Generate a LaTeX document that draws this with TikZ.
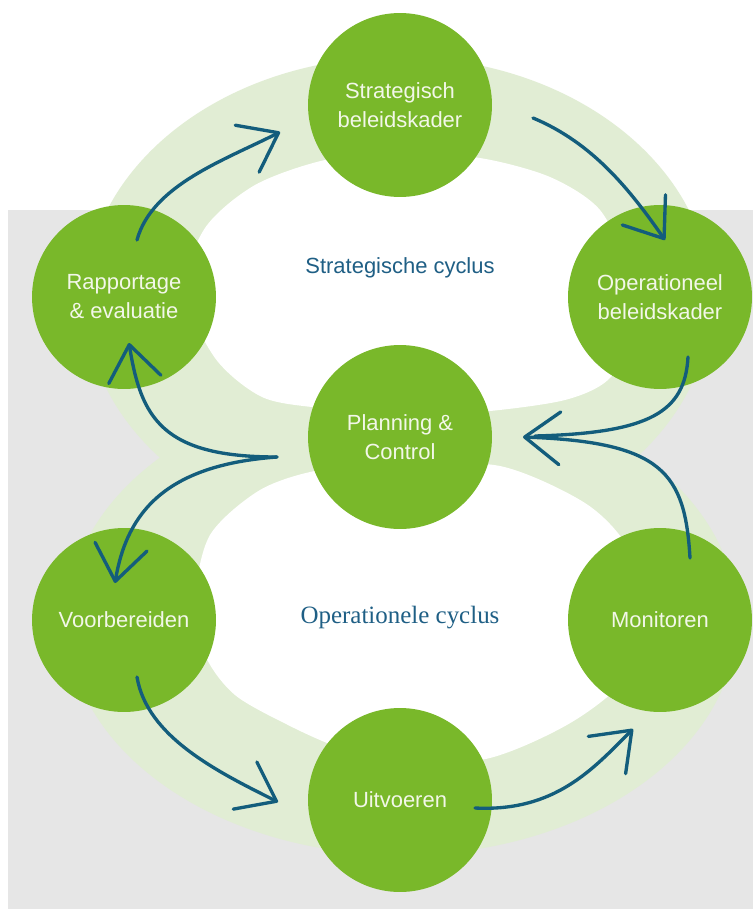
\documentclass[tikz,border=0pt]{standalone}
\usepackage{fontspec}
\setmainfont{Liberation Sans}
\newfontfamily\cyclusserif{Liberation Serif}
\usetikzlibrary{arrows.meta,calc}

\definecolor{bggray}{HTML}{E6E6E6}
\definecolor{ringgreen}{HTML}{E1EDD4}
\definecolor{phasegreen}{HTML}{79B82A}
\definecolor{phasetext}{HTML}{F2F7E8}
\definecolor{flowblue}{HTML}{135D7C}
\definecolor{cyclusblue}{HTML}{1F5F85}

\tikzset{
  phase/.style={circle, fill=phasegreen, minimum size=3.68cm, inner sep=0pt,
    align=center, text=phasetext, font=\fontsize{12.5}{16.5}\selectfont},
  cyclus/.style={text=cyclusblue, font=\fontsize{12.5}{15}\selectfont},
  flow/.style={draw=flowblue, line width=1.9pt, line cap=round,
    -{Straight Barb[length=20pt, width=30pt, round]}},
}

\begin{document}
\begin{tikzpicture}[x=0.02cm, y=-0.02cm]
          % Background
          \fill[white] (0,0) rectangle (753,909);
          \fill[bggray] (8,210) rectangle (753,909);
          \useasboundingbox (0,0) rectangle (753,909);

          % Two rings of the cycle
          \fill[ringgreen] (398,300) ellipse [x radius=313, y radius=243];
          \fill[ringgreen] (402,620) ellipse [x radius=335, y radius=235];
          \fill[white] plot[smooth cycle] coordinates {(400,153) (480,158) (550,177) (600,210)
            (628,270) (632,330) (610,378) (565,400) (480,412) (400,415) (320,408) (262,397)
            (215,358) (185,290) (205,228) (255,185) (325,160)};
          \fill[white] plot[smooth cycle] coordinates {(400,465) (500,466) (585,503) (628,548)
            (642,610) (628,675) (572,722) (490,758) (400,765) (340,748) (290,726) (235,695)
            (205,655) (195,600) (210,535) (260,490) (320,470)};

          % Cycle names
          \node[cyclus] (strcyc) at (400,268) {Strategische cyclus};
          \node[cyclus, font=\cyclusserif\fontsize{14.2}{17}\selectfont] (opcyc) at (400,618) {Operationele cyclus};

          % Phases
          \node[phase] (str) at (400,105) {Strategisch\\beleidskader};
          \node[phase] (rap) at (124,297) {Rapportage\\\& evaluatie};
          \node[phase] (ope) at (660,297) {Operationeel\\beleidskader};
          \node[phase] (pla) at (400,437) {Planning \&\\Control};
          \node[phase] (voo) at (124,620) {Voorbereiden};
          \node[phase] (mon) at (660,620) {Monitoren};
          \node[phase] (uit) at (400,800) {Uitvoeren};

          % Strategic loop
          \draw[flow] ($(rap)+(13,-57)$) .. controls +(15,-55) and +(-55,28) .. ($(str)+(-120,27)$);
          \draw[flow] ($(str)+(133,13)$) .. controls +(60,25) and +(-35,-50) .. ($(ope)+(5,-57)$);
          \draw[flow, -] ($(ope)+(28,60)$) .. controls +(-3,55) and +(115,-3) .. ($(pla)+(135,-1)$);

          % Planning & Control splits to both loops
          \draw[flow] ($(pla)+(-123,20)$) .. controls +(-115,0) and +(12,75) .. ($(rap)+(5,46)$);
          \draw[flow] ($(pla)+(-123,20)$) .. controls +(-110,8) and +(12,-72) .. ($(voo)+(-9,-37)$);

          % Operational loop
          \draw[flow] ($(voo)+(13,57)$) .. controls +(10,60) and +(-60,-30) .. ($(uit)+(-122,2)$);
          \draw[flow] ($(uit)+(75,8)$) .. controls +(80,4) and +(-40,40) .. ($(mon)+(-27,109)$);
          \draw[flow] ($(mon)+(30,-62)$) .. controls +(-5,-85) and +(140,5) .. ($(pla)+(123,0)$);

        \end{tikzpicture}
\end{document}
